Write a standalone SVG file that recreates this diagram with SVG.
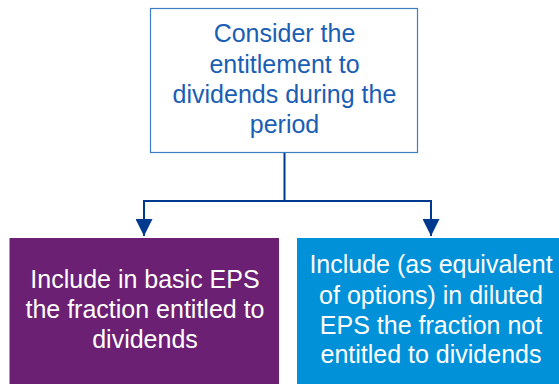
<svg xmlns="http://www.w3.org/2000/svg" width="559" height="384" viewBox="0 0 559 384">
<defs>
<style>
.t{font-family:"Liberation Sans",Arial,sans-serif;font-size:25px;text-anchor:middle}
.conn{fill:none;stroke:#003A8F;stroke-width:2}
</style>
<marker id="ah" markerUnits="userSpaceOnUse" markerWidth="18" markerHeight="17" refX="17" refY="8.5" orient="auto" viewBox="0 0 18 17">
<path d="M0,0 L17,8.5 L0,17 Z" fill="#003A8F"/>
</marker>
</defs>
<rect width="559" height="384" fill="#FFFFFF"/>
<g id="top">
<rect x="150.5" y="8.5" width="267" height="144" fill="#FFFFFF" stroke="#3C7DC4" stroke-width="1.2"/>
<g class="t" fill="#1A5EB4">
<text x="284.5" y="42">Consider the</text>
<text x="284.5" y="73">entitlement to</text>
<text x="284.5" y="103">dividends during the</text>
<text x="284.5" y="133">period</text>
</g>
</g>
<g id="connectors">
<path class="conn" d="M284.5,153 V201 M144,201 H431 M144,200 V236" marker-end="url(#ah)"/>
<path class="conn" d="M431,200 V236" marker-end="url(#ah)"/>
</g>
<g id="left">
<rect x="9.5" y="238" width="269.5" height="146" fill="#6B2074"/>
<g class="t" fill="#FFFFFF">
<text x="145" y="288">Include in basic EPS</text>
<text x="145" y="318">the fraction entitled to</text>
<text x="145" y="348">dividends</text>
</g>
</g>
<g id="right">
<rect x="297" y="238" width="262" height="146" fill="#0091D9"/>
<g class="t" fill="#FFFFFF">
<text x="431" y="273">Include (as equivalent</text>
<text x="431" y="304">of options) in diluted</text>
<text x="431" y="334">EPS the fraction not</text>
<text x="431" y="363">entitled to dividends</text>
</g>
</g>
</svg>
